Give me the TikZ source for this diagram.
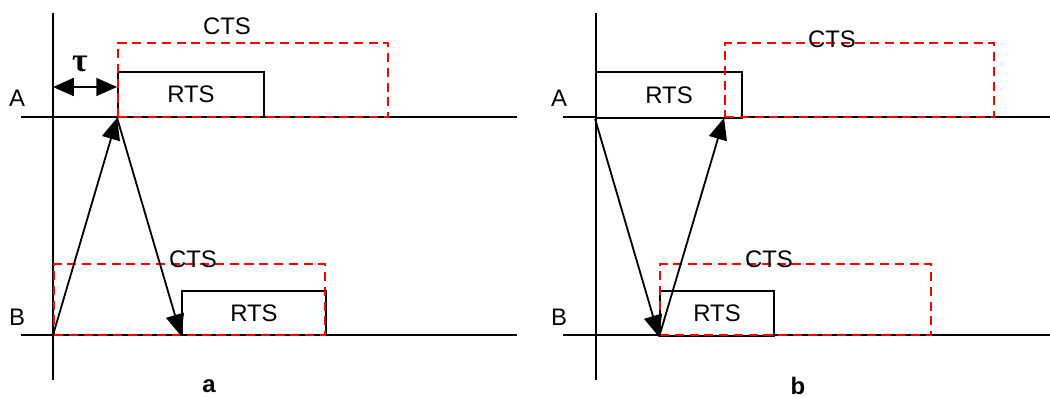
\documentclass[tikz,border=0pt]{standalone}
\usepackage{fontspec}
\setmainfont{Liberation Sans}
\newfontfamily\greekfont{Liberation Serif}
\usetikzlibrary{arrows.meta,positioning,fit}
\definecolor{ctsred}{RGB}{255,0,0}

\begin{document}
\begin{tikzpicture}[x=0.025cm, y=-0.025cm,
  axis/.style={line width=1.3pt},
  lbl/.style={font=\fontsize{17}{20}\selectfont},
  rtsbox/.style={draw, line width=1.3pt, inner sep=0pt, fill=white, label={[lbl]center:RTS}},
  ctsbox/.style={draw=ctsred, dash pattern=on 6.5pt off 4pt, line width=1.3pt, inner sep=0pt},
  msg/.style={line width=1.3pt, -{Triangle[length=0.54cm,width=0.46cm]}},
  delay/.style={line width=1.3pt, {Triangle[length=0.52cm,width=0.45cm]}-{Triangle[length=0.52cm,width=0.45cm]}}]
  \useasboundingbox (0,0) rectangle (1050,398);

  \coordinate (aTop) at (53,13);
  \coordinate (aBot) at (53,380);
  \coordinate (aAl) at (21,117);
  \coordinate (aAr) at (517,117);
  \coordinate (aBl) at (21,335);
  \coordinate (aBr) at (517,335);
  \draw[axis] (aTop) -- (aBot);
  \draw[axis] (aAl) -- (aAr);
  \draw[axis] (aBl) -- (aBr);

  \coordinate (bTop) at (596,13);
  \coordinate (bBot) at (596,380);
  \coordinate (bAl) at (563,117);
  \coordinate (bAr) at (1050,117);
  \coordinate (bBl) at (563,335);
  \coordinate (bBr) at (1050,335);
  \draw[axis] (bTop) -- (bBot);
  \draw[axis] (bAl) -- (bAr);
  \draw[axis] (bBl) -- (bBr);

  \node[rtsbox, fit={(118,72) (264,117)}] (aRtsA) {};
  \node[rtsbox, fit={(182,291) (326,335)}] (aRtsB) {};
  \node[rtsbox, fit={(596,72) (742,118)}] (bRtsA) {};
  \node[rtsbox, fit={(660,291) (774,336)}] (bRtsB) {};

  \node[ctsbox, fit={(118,43) (388,117)}] (aCtsA) {};
  \node[ctsbox, fit={(54,264) (325,335)}] (aCtsB) {};
  \node[ctsbox, fit={(725,43) (994,117)}] (bCtsA) {};
  \node[ctsbox, fit={(660,264) (931,335)}] (bCtsB) {};

  \draw[msg] (aBl -| aTop) -- (aRtsA.south west);
  \draw[msg] (aRtsA.south west) -- (aRtsB.south west);
  \draw[msg] (bRtsA.south west) -- (bRtsB.south west);
  \draw[msg] (bRtsB.south west) -- (bCtsA.south west);

  \coordinate (aTau) at (53,87);
  \draw[delay] (aTau) -- (aTau -| aRtsA.west);
  \node[font=\greekfont\bfseries\fontsize{24}{28}\selectfont] (tauLbl) at (80,64) {τ};

  \node[lbl] (aLblA) at (17,98) {A};
  \node[lbl] (aLblB) at (17,317) {B};
  \node[lbl] (bLblA) at (559,98) {A};
  \node[lbl] (bLblB) at (559,317) {B};

  \node[lbl] (aCtsTxtA) at (227,26) {CTS};
  \node[lbl] (aCtsTxtB) at (193,259) {CTS};
  \node[lbl] (bCtsTxtA) at (832,39) {CTS};
  \node[lbl] (bCtsTxtB) at (769,259) {CTS};

  \node[font=\bfseries\fontsize{17}{20}\selectfont] (capA) at (209,386) {a};
  \node[font=\bfseries\fontsize{17}{20}\selectfont] (capB) at (798,386) {b};
\end{tikzpicture}
\end{document}
